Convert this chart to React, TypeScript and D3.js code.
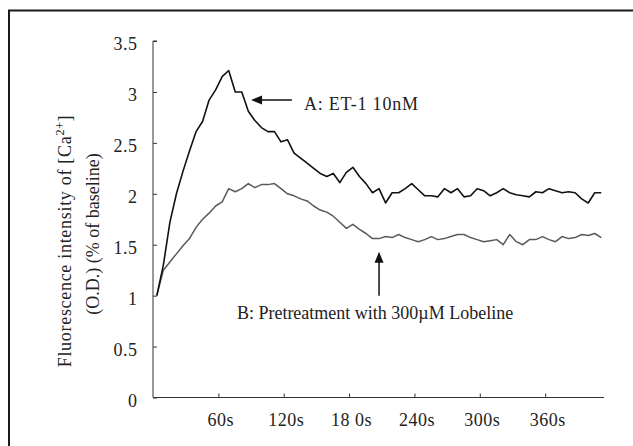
import React, { useEffect, useRef } from "react";
import * as d3 from "d3";

// ---- Data ----
const seriesA: number[] = [
  1.0, 1.3, 1.72, 2.0, 2.22, 2.42, 2.61, 2.71, 2.92, 3.02,
  3.15, 3.21, 3.0, 3.0, 2.81, 2.72, 2.65, 2.61, 2.61, 2.51,
  2.53, 2.4, 2.35, 2.3, 2.25, 2.2, 2.17, 2.2, 2.11, 2.21,
  2.26, 2.17, 2.1, 2.01, 2.05, 1.91, 2.01, 2.01, 2.05, 2.1,
  2.04, 1.98, 1.98, 1.97, 2.05, 2.01, 2.05, 1.97, 1.98, 2.05,
  2.03, 1.98, 2.01, 2.05, 2.01, 1.99, 1.98, 1.97, 2.02, 2.01,
  2.05, 2.03, 2.01, 2.02, 2.01, 1.95, 1.91, 2.01, 2.01,
];
const seriesB: number[] = [
  1.0, 1.25, 1.33, 1.41, 1.49, 1.56, 1.67, 1.75, 1.81, 1.88,
  1.92, 2.05, 2.02, 2.05, 2.1, 2.06, 2.09, 2.09, 2.1, 2.05,
  2.0, 1.98, 1.95, 1.93, 1.88, 1.84, 1.82, 1.78, 1.72, 1.66,
  1.7, 1.65, 1.61, 1.56, 1.56, 1.58, 1.57, 1.6, 1.57, 1.55,
  1.53, 1.55, 1.58, 1.55, 1.56, 1.58, 1.6, 1.6, 1.57, 1.55,
  1.53, 1.54, 1.55, 1.5, 1.6, 1.53, 1.5, 1.55, 1.55, 1.58,
  1.55, 1.53, 1.58, 1.56, 1.57, 1.6, 1.59, 1.61, 1.57,
];
const SAMPLE_START = 3.5; // seconds
const SAMPLE_STEP = 6; // seconds
const xTickValues = [60, 120, 180, 240, 300, 360];
const xTickLabels = ["60s", "120s", "18 0s", "240s", "300s", "360s"];
const yTickValues = [0, 0.5, 1, 1.5, 2, 2.5, 3, 3.5];
const yTickLabels = ["0", "0.5", "1", "1.5", "2", "2.5", "3", "3.5"];
const labelA = "A: ET-1 10nM";
const labelB = "B: Pretreatment with 300\u00B5M Lobeline";

const W = 633;
const H = 446;
const FONT = "'Liberation Serif', 'Times New Roman', serif";

export default function App() {
  const ref = useRef<SVGSVGElement | null>(null);

  useEffect(() => {
    const svg = d3.select(ref.current);
    svg.selectAll("*").remove();

    const x = d3.scaleLinear().domain([0, 414]).range([153, 604]);
    const y = d3.scaleLinear().domain([0, 3.5]).range([397.5, 41]);

    svg.append("rect").attr("width", W).attr("height", H).attr("fill", "#fff");

    // outer frame
    svg
      .append("rect")
      .attr("x", 9)
      .attr("y", 10.5)
      .attr("width", 700)
      .attr("height", 600)
      .attr("fill", "none")
      .attr("stroke", "#1a1a1a")
      .attr("stroke-width", 2);

    const axisColor = "#333";
    // y axis
    const yAxis = svg
      .append("g")
      .attr("transform", `translate(${x(0)},0)`)
      .call(d3.axisRight(y).tickValues(yTickValues).tickSize(4).tickFormat(() => ""));
    yAxis.select(".domain").attr("stroke", axisColor).attr("d", `M0,${y(3.5)}H4M0,${y(3.5)}V${y(0)}`);
    yAxis.selectAll(".tick line").attr("stroke", axisColor);

    // x axis
    const xAxis = svg
      .append("g")
      .attr("transform", `translate(0,${y(0)})`)
      .call(d3.axisTop(x).tickValues(xTickValues).tickSize(4).tickFormat(() => ""));
    xAxis.select(".domain").attr("stroke", axisColor).attr("d", `M${x(0)},0H${x(414)}`);
    xAxis.selectAll(".tick line").attr("stroke", axisColor);

    const txt = (ls: number) => (sel: any) =>
      sel
        .attr("font-family", FONT)
        .attr("font-size", 18)
        .attr("letter-spacing", ls)
        .attr("fill", "#222");

    // tick labels
    svg
      .append("g")
      .selectAll("text")
      .data(yTickValues)
      .join("text")
      .attr("x", 137.5)
      .attr("y", (d) => y(d) + 3)
      .attr("text-anchor", "end")
      .attr("dominant-baseline", "central")
      .call(txt(0.5))
      .text((_, i) => yTickLabels[i]);

    svg
      .append("g")
      .selectAll("text")
      .data(xTickValues)
      .join("text")
      .attr("x", (d) => x(d) + 2.5)
      .attr("y", 426)
      .attr("text-anchor", "middle")
      .call(txt(0.5))
      .text((_, i) => xTickLabels[i]);

    // y title
    const title = svg
      .append("text")
      .attr("transform", `translate(71,241) rotate(-90)`)
      .attr("text-anchor", "middle")
      .call(txt(0.7));
    title.append("tspan").text("Fluorescence intensity of [Ca");
    title.append("tspan").attr("font-size", 12).attr("dy", -7).text("2+");
    title.append("tspan").attr("dy", 7).text("]");
    svg
      .append("text")
      .attr("transform", `translate(99,234) rotate(-90)`)
      .attr("text-anchor", "middle")
      .call(txt(0))
      .text("(O.D.) (% of baseline)");

    // lines
    const line = d3
      .line<number>()
      .x((_, i) => x(SAMPLE_START + i * SAMPLE_STEP))
      .y((d) => y(d));

    svg
      .append("path")
      .datum(seriesB)
      .attr("d", line)
      .attr("fill", "none")
      .attr("stroke", "#5a5a5a")
      .attr("stroke-width", 1.5)
      .attr("stroke-linejoin", "round");
    svg
      .append("path")
      .datum(seriesA)
      .attr("d", line)
      .attr("fill", "none")
      .attr("stroke", "#111")
      .attr("stroke-width", 1.6)
      .attr("stroke-linejoin", "round");

    // annotations
    const ax0 = x(90), ax1 = x(127.5), ay = y(2.92);
    svg.append("line").attr("x1", ax0 + 8).attr("x2", ax1).attr("y1", ay).attr("y2", ay)
      .attr("stroke", "#111").attr("stroke-width", 1.5);
    svg.append("path")
      .attr("d", `M${ax0},${ay}L${ax0 + 11},${ay - 4.5}L${ax0 + 11},${ay + 4.5}Z`)
      .attr("fill", "#111");
    svg.append("text").attr("x", x(138.5)).attr("y", ay + 10).call(txt(0.8)).text(labelA);

    const bx = x(207.5), by0 = y(1.43), by1 = y(1.0);
    svg.append("line").attr("x1", bx).attr("x2", bx).attr("y1", by0 + 8).attr("y2", by1)
      .attr("stroke", "#111").attr("stroke-width", 1.5);
    svg.append("path")
      .attr("d", `M${bx},${by0}L${bx - 4.5},${by0 + 11}L${bx + 4.5},${by0 + 11}Z`)
      .attr("fill", "#111");
    svg.append("text").attr("x", x(77)).attr("y", 319).call(txt(0)).text(labelB);
  }, []);

  return (
    <svg
      ref={ref}
      width={W}
      height={H}
      style={{ position: "absolute", left: 0, top: 0, display: "block" }}
    />
  );
}
